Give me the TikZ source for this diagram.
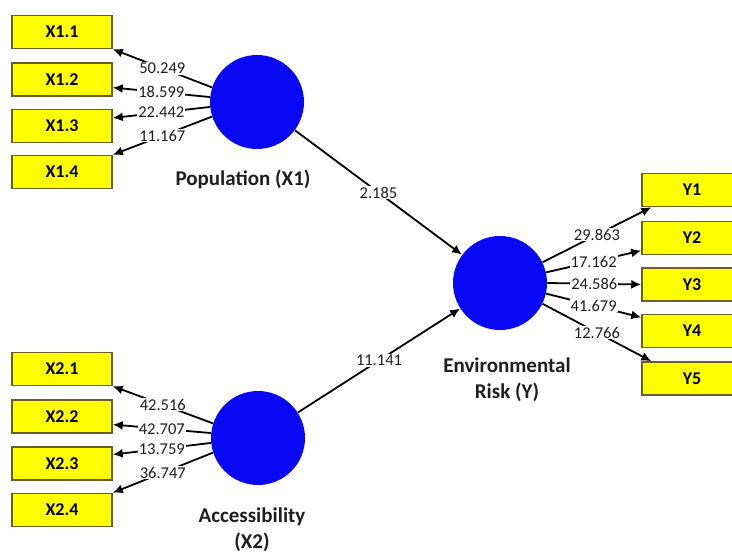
\documentclass[tikz,border=0pt]{standalone}
\usepackage{fontspec}
\setmainfont{Carlito}
\usetikzlibrary{arrows.meta}
\definecolor{boxyellow}{RGB}{255,255,0}
\definecolor{boxline}{RGB}{105,95,40}
\definecolor{lvblue}{RGB}{8,8,245}
\definecolor{txtgray}{RGB}{30,30,30}

\begin{document}
\begin{tikzpicture}[x=1pt,y=-1pt,
  thick,
  ind node/.style={rectangle,draw=boxline,line width=1.5pt,fill=boxyellow,minimum width=100pt,minimum height=33pt,inner sep=0pt,font=\fontsize{18}{18}\selectfont\bfseries},
  lv node/.style={circle,fill=lvblue,minimum size=94pt,inner sep=0pt},
  lv name/.style={align=center,text=txtgray,font=\fontsize{21}{26}\selectfont\bfseries},
  weight/.style={fill=white,inner sep=1pt,text=txtgray,font=\fontsize{16.5}{16}\selectfont},
  link/.style={line width=1.8pt,-{Latex[length=10pt,width=9pt]}}]

  \clip (0,0) rectangle (732,554);

  % indicators of X1
  \node[ind node] (x11) at (62,32){X1.1};
  \node[ind node] (x12) at (62,79.5){X1.2};
  \node[ind node] (x13) at (62,126){X1.3};
  \node[ind node] (x14) at (62,172){X1.4};

  % indicators of X2
  \node[ind node] (x21) at (62,369){X2.1};
  \node[ind node] (x22) at (62,416.5){X2.2};
  \node[ind node] (x23) at (62,463.5){X2.3};
  \node[ind node] (x24) at (62,510){X2.4};

  % indicators of Y
  \node[ind node] (y1) at (692,190){Y1};
  \node[ind node] (y2) at (692,238){Y2};
  \node[ind node] (y3) at (692,284.5){Y3};
  \node[ind node] (y4) at (692,331){Y4};
  \node[ind node] (y5) at (692,378.5){Y5};

  % latent variables
  \node[lv node] (pop) at (257,102){};
  \node[lv node] (acc) at (258,438){};
  \node[lv node] (env) at (500,283){};

  \node[lv name] (popname) at (243,179){Population (X1)};
  \node[lv name] (envname) at (507,380){Environmental\\Risk (Y)};
  \node[lv name] (accname) at (252,530){Accessibility\\(X2)};

  \path[every node/.style=weight]
    (pop.162) edge[link] node{50.249} (x11.south east)
    (pop.174) edge[link] node{18.599} (x12.-9)
    (pop.186) edge[link] node{22.442} (x13.9)
    (pop.198) edge[link] node{11.167} (x14.north east)
    (acc.162) edge[link] node{42.516} (x21.south east)
    (acc.174) edge[link] node{42.707} (x22.-9)
    (acc.186) edge[link] node{13.759} (x23.10)
    (acc.198) edge[link] node{36.747} (x24.north east)
    (pop) edge[link] node{2.185} (env)
    (acc) edge[link] node{11.141} (env)
    (env.26) edge[link] node{29.863} (y1.-157)
    (env.13) edge[link] node{17.162} (y2.-166)
    (env.0) edge[link] node{24.586} (y3.west)
    (env.-13) edge[link] node{41.679} (y4.165)
    (env.-26) edge[link] node{12.766} (y5.157);
\end{tikzpicture}
\end{document}
